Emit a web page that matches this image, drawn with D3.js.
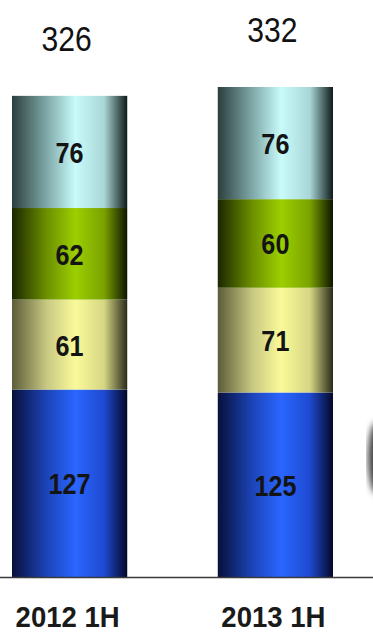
<!DOCTYPE html>
<html>
<head>
<meta charset="utf-8">
<script src="https://cdn.jsdelivr.net/npm/d3@7"></script>
<style>
  html, body { margin: 0; padding: 0; background: #fff; }
  svg { display: block; }
  text { font-family: "Liberation Sans", Arial, sans-serif; fill: #111; }
</style>
</head>
<body>
<div id="chart"></div>
<script>
// chart data
const categories = ['2012 1H', '2013 1H'];
const blueValues = [127, 125];
const yellowValues = [61, 71];
const greenValues = [62, 60];
const cyanValues = [76, 76];
const totals = [326, 332];

const keys = ['blue', 'yellow', 'green', 'cyan'];
const rows = categories.map((c, i) => ({
  category: c,
  blue: blueValues[i],
  yellow: yellowValues[i],
  green: greenValues[i],
  cyan: cyanValues[i],
  total: totals[i]
}));

// cylinder shading, dark edges and a bright band a bit right of centre
const shades = {
  cyan: ['#2c3e3e', '#7fa8a8', '#c9fbfb', '#a9d6d6', '#0f1a1a'],
  green: ['#1c2600', '#6c9000', '#9ccf00', '#7aa200', '#0e1400'],
  yellow: ['#5c5c3a', '#c8c882', '#fafa9a', '#d6d684', '#2a2a1a'],
  blue: ['#08103c', '#1c44b8', '#2a66ff', '#1e4ad0', '#040828']
};

const width = 373;
const height = 634;

const svg = d3.select('#chart').append('svg')
  .attr('width', width)
  .attr('height', height);

const defs = svg.append('defs');
keys.forEach((k) => {
  const g = defs.append('linearGradient')
    .attr('id', `grad-${k}`)
    .attr('x1', '0%').attr('x2', '100%')
    .attr('y1', '0%').attr('y2', '0%');
  [0, 0.3, 0.55, 0.8, 1].forEach((o, i) => {
    g.append('stop').attr('offset', o).attr('stop-color', shades[k][i]);
  });
});
defs.append('filter').attr('id', 'blur')
  .append('feGaussianBlur').attr('stdDeviation', 3);

const x = d3.scaleBand()
  .domain(categories)
  .range([12, 333])
  .paddingInner(0.44)
  .paddingOuter(0);

const y = d3.scaleLinear()
  .domain([0, 332])
  .range([577, 87]);

const stacked = d3.stack().keys(keys)(rows);

// narrow text: squeeze horizontally around its anchor
const squeeze = (sx) => (sel, fx, fy) =>
  sel.attr('transform', (d, i) => `translate(${fx(d, i)},${fy(d, i)}) scale(${sx},1)`);

const layers = svg.selectAll('g.layer')
  .data(stacked)
  .join('g')
  .attr('class', 'layer')
  .attr('fill', (d) => `url(#grad-${d.key})`);

layers.selectAll('rect')
  .data((d) => d)
  .join('rect')
  .attr('x', (d) => x(d.data.category))
  .attr('width', x.bandwidth())
  .attr('y', (d) => y(d[1]))
  .attr('height', (d) => y(d[0]) - y(d[1]));

// values inside segments
layers.selectAll('text')
  .data((d) => d.map((p) => ({ p, key: d.key })))
  .join('text')
  .call(squeeze(0.84),
    (d) => x(d.p.data.category) + x.bandwidth() / 2,
    (d) => (y(d.p[0]) + y(d.p[1])) / 2 + 11)
  .attr('text-anchor', 'middle')
  .attr('font-size', 30)
  .attr('font-weight', 'bold')
  .style('fill', '#141414')
  .text((d) => d.p.data[d.key]);

// totals above bars
svg.selectAll('text.total')
  .data(rows)
  .join('text')
  .attr('class', 'total')
  .call(squeeze(0.86),
    (d) => x(d.category) + x.bandwidth() / 2 - 3,
    (d) => y(d.total) - 45)
  .attr('text-anchor', 'middle')
  .attr('font-size', 35)
  .text((d) => d.total);

// baseline
svg.append('line')
  .attr('x1', 0).attr('x2', width)
  .attr('y1', y(0) + 0.5).attr('y2', y(0) + 0.5)
  .attr('stroke', '#3a3a3a')
  .attr('stroke-width', 1.5);

// category labels
svg.selectAll('text.cat')
  .data(categories)
  .join('text')
  .attr('class', 'cat')
  .call(squeeze(0.95),
    (d) => x(d) + x.bandwidth() / 2 - 2,
    () => 627)
  .attr('text-anchor', 'middle')
  .attr('font-size', 29)
  .attr('font-weight', 'bold')
  .style('fill', '#1a1a1a')
  .text((d) => d);

// cropped picture fragment on the right edge
svg.append('ellipse')
  .attr('cx', 377).attr('cy', 458)
  .attr('rx', 9).attr('ry', 36)
  .attr('fill', '#444')
  .attr('filter', 'url(#blur)');
</script>
</body>
</html>
